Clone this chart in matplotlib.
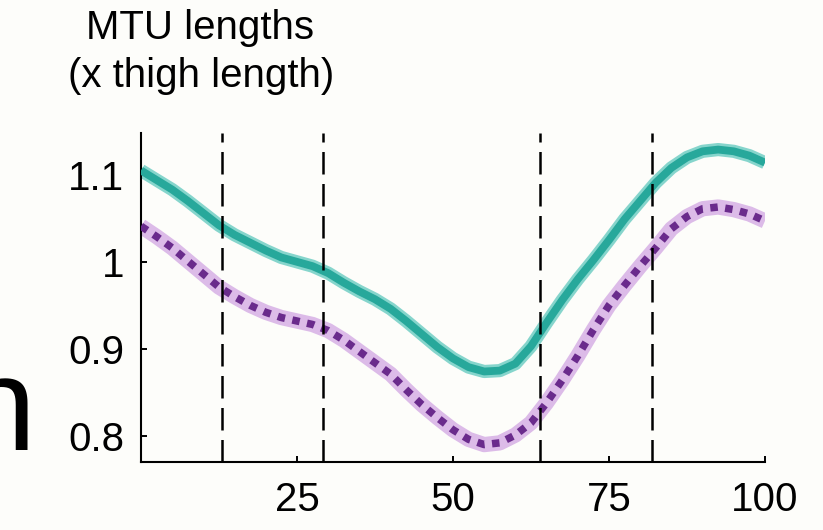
import numpy as np
import matplotlib.pyplot as plt

plt.rcParams['font.family'] = ['Liberation Sans', 'DejaVu Sans']

# gait cycle (%) and MTU length normalised by thigh length
cycle = np.arange(0, 100.1, 2.5)
mtu_a = [1.105, 1.094, 1.083, 1.070, 1.056, 1.042, 1.031, 1.022, 1.013, 1.005,
         1.000, 0.995, 0.987, 0.976, 0.966, 0.957, 0.946, 0.932, 0.917, 0.902,
         0.889, 0.879, 0.874, 0.875, 0.883, 0.903, 0.930, 0.956, 0.980, 1.002,
         1.025, 1.049, 1.070, 1.091, 1.108, 1.120, 1.127, 1.129, 1.127, 1.122,
         1.114]
mtu_b = [1.041, 1.029, 1.016, 1.001, 0.986, 0.971, 0.960, 0.950, 0.942, 0.936,
         0.932, 0.928, 0.921, 0.910, 0.897, 0.884, 0.871, 0.853, 0.836, 0.821,
         0.807, 0.796, 0.790, 0.792, 0.801, 0.815, 0.838, 0.864, 0.892, 0.922,
         0.950, 0.973, 0.995, 1.016, 1.038, 1.052, 1.061, 1.063, 1.060, 1.055,
         1.047]
events = [13.0, 29.2, 63.9, 81.9]

xticks = [25, 50, 75, 100]
yticks = [0.8, 0.9, 1.0, 1.1]
ylabels = ['0.8', '0.9', '1', '1.1']

bg = '#fdfdfa'
fig = plt.figure(figsize=(8.23, 5.30), dpi=100, facecolor=bg)
ax = fig.add_axes([0.1713, 0.1283, 0.7582, 0.6207])
ax.set_facecolor(bg)

# shaded spread drawn as a wide pale stroke under each mean curve
ax.plot(cycle, mtu_a, color='#86d5cc', lw=9.5, solid_capstyle='butt', zorder=2)
ax.plot(cycle, mtu_a, color='#27a89b', lw=5.6, solid_capstyle='butt', zorder=3)
ax.plot(cycle, mtu_b, color='#dcbbe8', lw=11, solid_capstyle='butt', zorder=2)
ax.plot(cycle, mtu_b, color='#6a2b8c', lw=5.4, linestyle=(0, (1, 1)),
        dash_capstyle='butt', zorder=3)

for e in events:
    ax.axvline(e, color='black', lw=1.8, linestyle=(0, (9, 3.8)), zorder=4)

ax.set_xlim(0, 100)
ax.set_ylim(0.770, 1.148)
ax.set_xticks(xticks)
ax.set_yticks(yticks)
ax.set_yticklabels(ylabels)
ax.tick_params(direction='in', length=4, width=1.4, labelsize=29)
ax.tick_params(axis='y', pad=12)
ax.tick_params(axis='x', pad=14)
for s in ['top', 'right']:
    ax.spines[s].set_visible(False)
for s in ['left', 'bottom']:
    ax.spines[s].set_linewidth(1.5)

fig.text(0.243, 0.926, 'MTU lengths', ha='center', va='baseline', fontsize=29)
fig.text(0.244, 0.836, '(x thigh length)', ha='center', va='baseline', fontsize=29)

# letter cut off at the left edge
fig.text(0.043, 0.151, 'n', ha='right', va='baseline', fontsize=96)

fig.savefig('out.png', dpi=100, facecolor=bg)
